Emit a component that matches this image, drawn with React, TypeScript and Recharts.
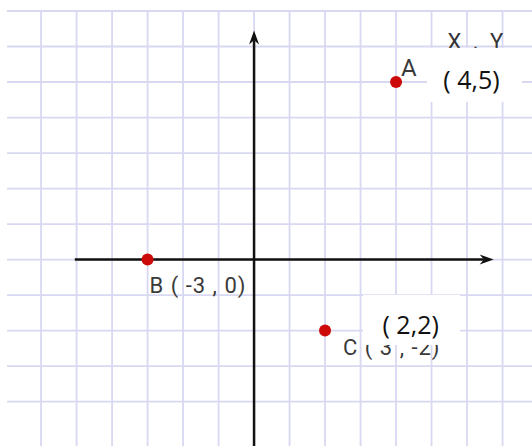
import React from "react"
import { ScatterChart, Scatter, XAxis, YAxis, CartesianGrid, ReferenceLine } from "recharts"

// plotted points (grid units)
const pointNames = ["A", "B", "C"]
const pointX = [4, -3, 2]
const pointY = [5, 0, -2]
const pointLabels = ["A", "B ( -3 , 0)", "C ( 3 , -2)"]

// handwritten notes pasted over the picture
const noteTexts = ["X . Y", "( 4,5)", "( 2,2)"]
const noteX = [6.28, 6.21, 4.44]
const noteY = [5.93, 5.2, -1.7]
const noteBoxed = [false, true, true]

const gridX = [-6, -5, -4, -3, -2, -1, 0, 1, 2, 3, 4, 5, 6, 7]
const gridY = [-5, -4, -3, -2, -1, 0, 1, 2, 3, 4, 5, 6, 7]

const points = pointNames.map((name, i) => ({ name, x: pointX[i], y: pointY[i], label: pointLabels[i] }))
const notes = noteTexts.map((text, i) => ({ text, x: noteX[i], y: noteY[i], boxed: noteBoxed[i] }))

// label placement relative to each dot, in px
const labelStyle: Record<string, { dx: number; dy: number; size: number; spacing: number }> = {
  A: { dx: 5, dy: -6, size: 24, spacing: 0 },
  B: { dx: 2, dy: 33, size: 22, spacing: 1 },
  C: { dx: 18, dy: 24, size: 22, spacing: 1 },
}
const boxSize: Record<string, { w: number; h: number; tdx: number; tdy: number }> = {
  "( 4,5)": { w: 95, h: 54, tdx: -3, tdy: 4 },
  "( 2,2)": { w: 97, h: 50, tdx: -1, tdy: 4 },
}

const axisLine = (p: any) => {
  const { x1, y1, x2, y2 } = p
  const a = Math.atan2(y2 - y1, x2 - x1)
  const L = 14
  const W = 5
  const bx = x2 - L * Math.cos(a)
  const by = y2 - L * Math.sin(a)
  const nx = x2 - L * 0.7 * Math.cos(a)
  const ny = y2 - L * 0.7 * Math.sin(a)
  const px = -Math.sin(a) * W
  const py = Math.cos(a) * W
  return (
    <g>
      <line x1={x1} y1={y1} x2={nx} y2={ny} stroke="#111" strokeWidth={2.5} />
      <path d={`M${x2},${y2} L${bx + px},${by + py} L${nx},${ny} L${bx - px},${by - py} Z`} fill="#111" />
    </g>
  )
}

const PointShape = (p: any) => {
  const { cx, cy, payload } = p
  const s = labelStyle[payload.name]
  return (
    <g>
      <circle cx={cx} cy={cy} r={6} fill="#cc0a0a" />
      <text
        x={cx + s.dx}
        y={cy + s.dy}
        fontFamily="Roboto, sans-serif"
        fontSize={s.size}
        letterSpacing={s.spacing}
        fill="#3a3a3a"
      >
        {payload.label}
      </text>
    </g>
  )
}

const NoteShape = (p: any) => {
  const { cx, cy, payload } = p
  if (!payload.boxed) {
    return (
      <text x={cx} y={cy} textAnchor="middle" fontFamily="Roboto, sans-serif" fontSize={22} letterSpacing={3} fill="#333">
        {payload.text}
      </text>
    )
  }
  const b = boxSize[payload.text]
  return (
    <g>
      <rect x={cx - b.w / 2} y={cy - b.h / 2} width={b.w} height={b.h} fill="#fff" />
      <text
        x={cx + b.tdx}
        y={cy + b.tdy}
        textAnchor="middle"
        dominantBaseline="central"
        fontFamily="'Open Sans', sans-serif"
        fontSize={25}
        fill="#111"
      >
        {payload.text}
      </text>
    </g>
  )
}

export default function App() {
  return (
    <div style={{ position: "absolute", left: 0, top: 0, width: 532, height: 446, background: "#fff" }}>
      <ScatterChart width={532} height={446} margin={{ top: 11, right: 0, left: 7, bottom: 0 }}>
        <CartesianGrid
          stroke="#d8d8f2"
          strokeWidth={1.8}
          horizontalValues={gridY}
          verticalValues={gridX}
        />
        <XAxis type="number" dataKey="x" domain={[-6.96, 7.83]} ticks={gridX} allowDataOverflow hide />
        <YAxis type="number" dataKey="y" domain={[-5.25, 7]} ticks={gridY} allowDataOverflow hide />
        <ReferenceLine segment={[{ x: -5.05, y: 0 }, { x: 6.75, y: 0 }]} shape={axisLine} ifOverflow="visible" />
        <ReferenceLine segment={[{ x: 0, y: -5.4 }, { x: 0, y: 6.45 }]} shape={axisLine} ifOverflow="visible" />
        <Scatter data={points} shape={PointShape} isAnimationActive={false} />
        <Scatter data={notes} shape={NoteShape} isAnimationActive={false} />
      </ScatterChart>
    </div>
  )
}
